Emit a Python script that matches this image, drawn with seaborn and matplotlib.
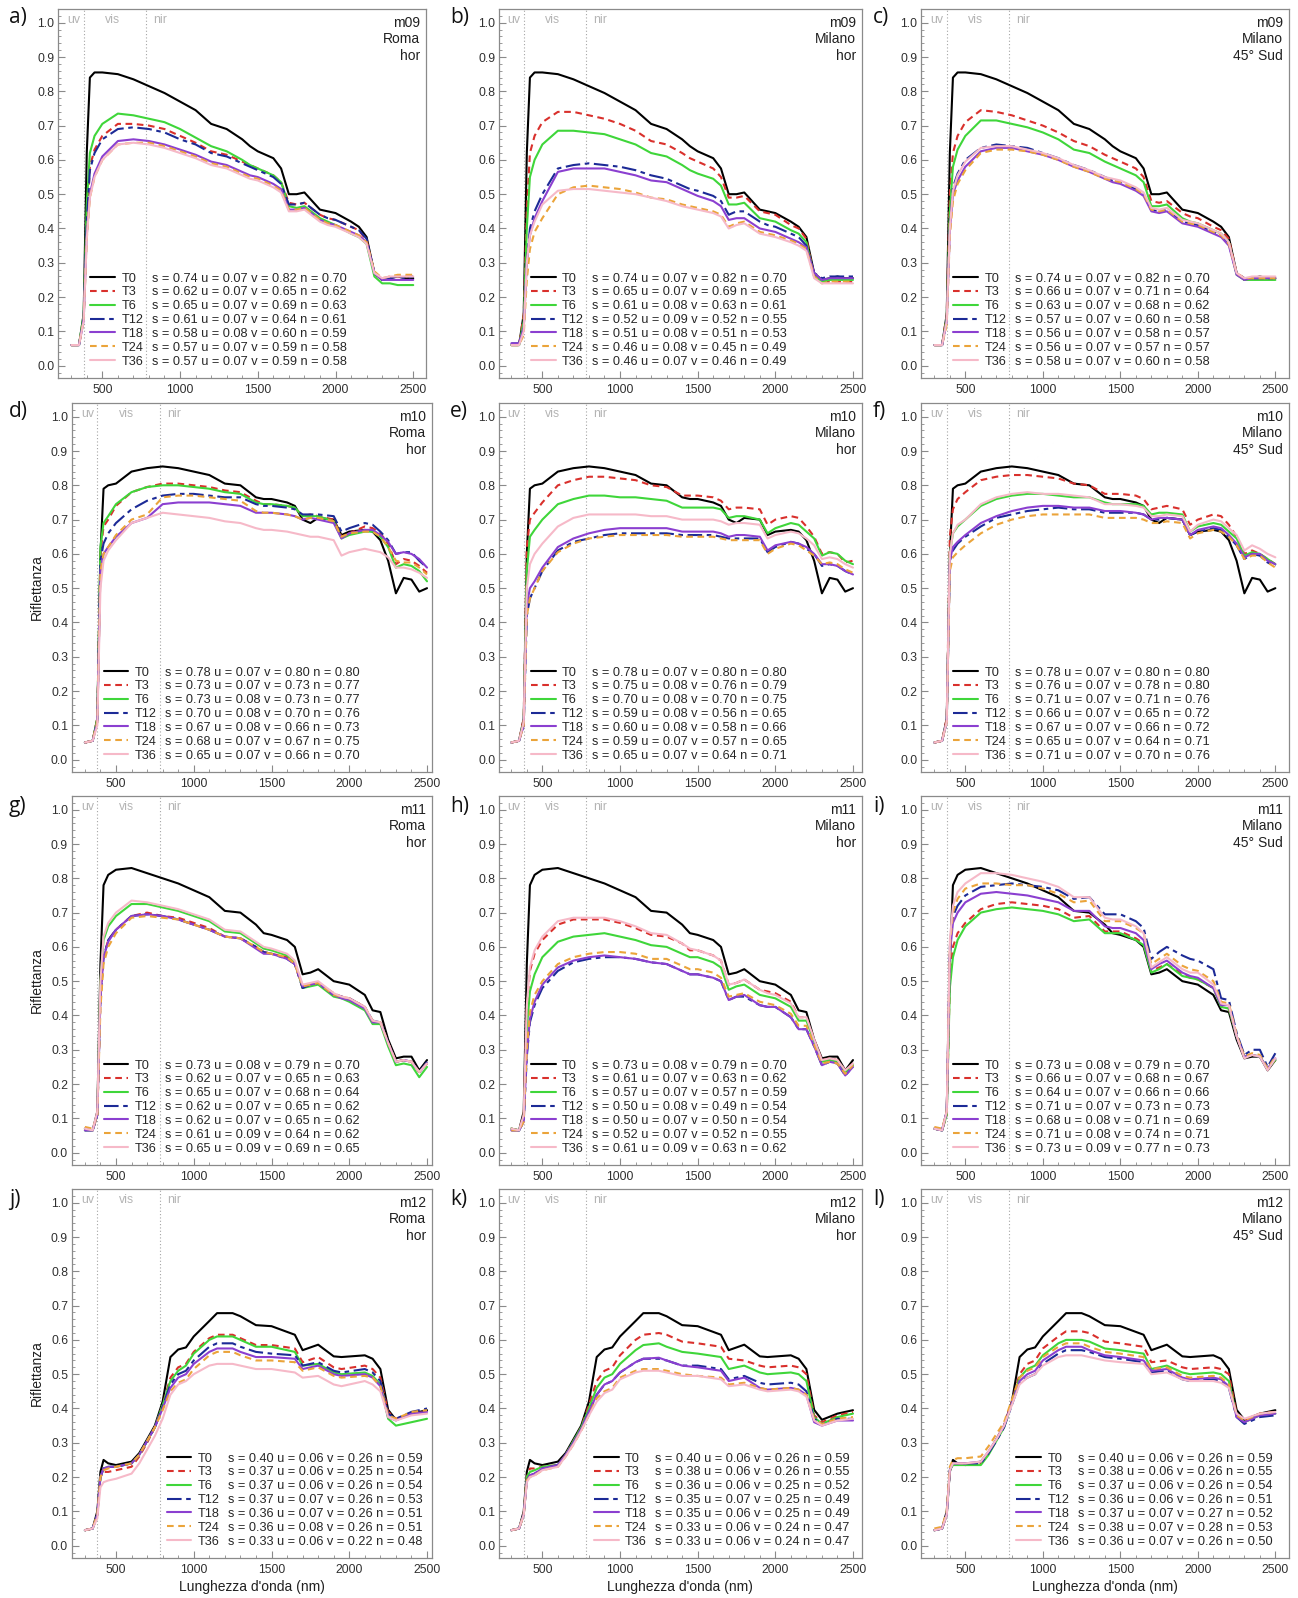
import matplotlib
matplotlib.use("Agg")
import matplotlib.pyplot as plt
from matplotlib.lines import Line2D
from matplotlib.ticker import MultipleLocator, FormatStrFormatter
import pandas as pd
import seaborn as sns

# ---------------------------------------------------------------- wavelengths (nm)
WL_A = [300, 350, 380, 400, 420, 450, 500, 600, 700, 800,
        900, 1000, 1100, 1200, 1300, 1400, 1450, 1500, 1600, 1650,
        1700, 1750, 1800, 1900, 1950, 2000, 2100, 2150, 2200, 2250,
        2300, 2350, 2400, 2450, 2500]
WL_B = [300, 350, 380, 400, 420, 450, 500, 600, 650, 700,
        750, 800, 850, 900, 950, 1000, 1100, 1150, 1250, 1300,
        1400, 1500, 1650, 1700, 1800, 1900, 1950, 2100, 2150, 2200,
        2250, 2300, 2400, 2500]

SERIES = ["T0", "T3", "T6", "T12", "T18", "T24", "T36"]

# ---------------------------------------------------------------- reference spectra (T0)
M09_T0 = [.060, .060, .150, .620, .840, .855, .855, .850, .835, .815,
          .795, .770, .745, .705, .690, .660, .640, .625, .605, .575,
          .500, .500, .505, .455, .450, .445, .420, .405, .375, .270,
          .250, .255, .260, .255, .255]
M10_T0 = [.050, .055, .120, .600, .790, .800, .805, .840, .850, .855,
          .850, .840, .830, .805, .800, .765, .760, .760, .750, .740,
          .700, .690, .705, .700, .655, .665, .670, .665, .640, .580,
          .485, .530, .525, .490, .500]
M11_T0 = [.070, .065, .120, .550, .780, .810, .825, .830, .815, .800,
          .785, .765, .745, .705, .700, .665, .640, .635, .620, .600,
          .520, .525, .535, .500, .495, .490, .460, .415, .410, .330,
          .275, .280, .280, .240, .270]
M12_T0 = [.045, .050, .100, .215, .250, .240, .235, .245, .270, .310,
          .350, .420, .550, .572, .578, .610, .655, .678, .678, .669,
          .643, .640, .615, .570, .586, .552, .550, .555, .545, .515,
          .396, .367, .385, .395]

# ---------------------------------------------------------------- m09
m09_roma_hor = {
    "T3": [.060, .060, .140, .420, .580, .630, .670, .705, .705, .700,
           .690, .670, .650, .625, .615, .595, .585, .575, .555, .535,
           .475, .470, .475, .440, .430, .425, .405, .395, .365, .270,
           .250, .260, .260, .260, .265],
    "T6": [.060, .060, .150, .470, .620, .670, .705, .735, .730, .720,
           .710, .690, .665, .640, .625, .600, .585, .575, .555, .535,
           .465, .460, .465, .430, .420, .410, .385, .375, .355, .260,
           .240, .240, .235, .235, .235],
    "T12": [.060, .060, .140, .420, .570, .620, .660, .690, .695, .690,
            .680, .660, .645, .620, .610, .590, .580, .570, .550, .530,
            .470, .470, .475, .440, .430, .425, .405, .395, .370, .270,
            .250, .255, .260, .255, .260],
    "T18": [.060, .060, .130, .380, .500, .560, .610, .655, .660, .655,
            .645, .630, .615, .595, .585, .565, .555, .550, .530, .515,
            .455, .455, .460, .425, .415, .410, .390, .380, .360, .270,
            .250, .250, .250, .250, .250],
    "T24": [.060, .060, .130, .370, .490, .550, .600, .645, .650, .650,
            .640, .625, .610, .590, .580, .560, .550, .545, .525, .510,
            .455, .455, .460, .425, .415, .410, .390, .380, .360, .275,
            .255, .260, .265, .265, .265],
    "T36": [.060, .060, .130, .370, .490, .550, .600, .645, .650, .645,
            .635, .620, .605, .585, .575, .555, .545, .540, .520, .505,
            .450, .450, .455, .420, .410, .405, .385, .375, .355, .270,
            .255, .260, .260, .260, .260],
}
m09_milano_hor = {
    "T3": [.060, .060, .150, .450, .620, .670, .710, .740, .740, .730,
           .720, .705, .685, .655, .645, .620, .605, .595, .575, .550,
           .490, .490, .495, .450, .445, .440, .410, .400, .370, .260,
           .245, .245, .245, .245, .245],
    "T6": [.060, .060, .130, .400, .550, .600, .645, .685, .685, .680,
           .675, .660, .645, .620, .610, .585, .570, .560, .545, .525,
           .470, .470, .475, .430, .425, .420, .395, .385, .360, .260,
           .245, .250, .250, .250, .250],
    "T12": [.065, .065, .110, .300, .400, .450, .500, .575, .585, .590,
            .585, .580, .570, .555, .545, .525, .515, .510, .495, .480,
            .440, .450, .450, .420, .410, .405, .385, .375, .350, .270,
            .255, .260, .260, .260, .260],
    "T18": [.065, .065, .110, .300, .380, .430, .480, .565, .575, .575,
            .575, .565, .555, .540, .535, .515, .505, .495, .480, .465,
            .425, .430, .430, .400, .395, .390, .370, .360, .345, .270,
            .250, .255, .255, .255, .255],
    "T24": [.060, .060, .090, .250, .340, .390, .430, .500, .520, .525,
            .520, .515, .505, .490, .485, .470, .465, .460, .450, .440,
            .405, .415, .420, .390, .385, .380, .365, .355, .340, .260,
            .240, .245, .245, .245, .245],
    "T36": [.060, .060, .100, .300, .380, .420, .470, .510, .515, .515,
            .510, .505, .500, .490, .480, .465, .460, .455, .445, .435,
            .400, .410, .415, .385, .380, .375, .360, .350, .335, .255,
            .240, .240, .240, .240, .240],
}
m09_milano_sud = {
    "T3": [.060, .060, .150, .500, .620, .670, .710, .745, .740, .730,
           .715, .700, .680, .655, .640, .615, .605, .595, .575, .550,
           .480, .475, .480, .445, .435, .430, .405, .395, .370, .270,
           .255, .255, .255, .255, .255],
    "T6": [.060, .060, .140, .450, .580, .630, .670, .715, .715, .705,
           .695, .680, .660, .630, .620, .595, .585, .575, .555, .535,
           .465, .465, .470, .430, .420, .415, .395, .385, .360, .265,
           .250, .250, .250, .250, .250],
    "T12": [.060, .060, .130, .400, .520, .560, .600, .635, .645, .640,
            .635, .620, .605, .585, .570, .550, .540, .535, .515, .500,
            .455, .450, .455, .420, .415, .410, .390, .380, .355, .270,
            .255, .255, .255, .255, .255],
    "T18": [.060, .060, .130, .390, .500, .540, .580, .625, .635, .635,
            .625, .615, .600, .580, .565, .545, .535, .530, .510, .495,
            .450, .445, .450, .415, .410, .405, .385, .375, .350, .265,
            .250, .255, .255, .255, .255],
    "T24": [.060, .060, .120, .380, .480, .530, .570, .620, .630, .630,
            .625, .615, .600, .580, .565, .545, .540, .535, .515, .500,
            .455, .450, .455, .420, .415, .410, .390, .380, .355, .270,
            .255, .255, .255, .255, .255],
    "T36": [.060, .060, .130, .400, .510, .555, .595, .635, .640, .640,
            .630, .620, .605, .585, .570, .550, .545, .540, .520, .505,
            .460, .455, .460, .425, .420, .415, .395, .385, .360, .270,
            .255, .260, .260, .260, .260],
}

# ---------------------------------------------------------------- m10
m10_roma_hor = {
    "T3": [.050, .055, .120, .600, .680, .700, .740, .780, .795, .805,
           .805, .800, .795, .785, .780, .755, .745, .745, .740, .735,
           .710, .715, .710, .700, .650, .660, .680, .675, .660, .630,
           .570, .585, .580, .565, .545],
    "T6": [.050, .055, .120, .620, .690, .710, .745, .780, .795, .800,
           .800, .795, .790, .780, .775, .750, .745, .745, .740, .735,
           .710, .710, .710, .695, .645, .655, .665, .665, .650, .620,
           .560, .570, .565, .550, .520],
    "T12": [.050, .055, .110, .580, .630, .660, .690, .730, .755, .770,
            .775, .775, .770, .765, .765, .745, .740, .740, .735, .730,
            .715, .715, .715, .710, .665, .675, .690, .685, .665, .640,
            .600, .605, .605, .580, .560],
    "T18": [.050, .055, .110, .550, .600, .620, .650, .690, .705, .745,
            .750, .750, .750, .745, .740, .720, .720, .720, .715, .710,
            .700, .705, .700, .690, .645, .660, .670, .670, .655, .635,
            .600, .605, .600, .585, .560],
    "T24": [.050, .055, .110, .550, .600, .620, .655, .700, .715, .765,
            .770, .770, .765, .760, .755, .725, .720, .720, .715, .710,
            .700, .705, .705, .695, .650, .660, .665, .665, .650, .620,
            .580, .575, .575, .560, .540],
    "T36": [.050, .055, .100, .500, .580, .610, .640, .690, .705, .720,
            .715, .710, .705, .695, .690, .675, .670, .670, .665, .660,
            .655, .650, .650, .640, .595, .605, .615, .610, .605, .590,
            .560, .560, .555, .545, .530],
}
m10_milano_hor = {
    "T3": [.050, .055, .120, .620, .700, .720, .750, .800, .815, .825,
           .825, .820, .815, .800, .795, .770, .770, .770, .765, .755,
           .730, .735, .735, .730, .685, .700, .710, .705, .680, .650,
           .600, .605, .600, .575, .580],
    "T6": [.050, .055, .110, .550, .650, .670, .700, .745, .760, .770,
           .770, .765, .765, .760, .755, .735, .735, .735, .735, .730,
           .705, .710, .710, .700, .660, .675, .690, .685, .665, .645,
           .595, .605, .600, .580, .570],
    "T12": [.050, .055, .100, .420, .470, .500, .550, .610, .635, .645,
            .655, .660, .660, .660, .660, .655, .655, .655, .655, .650,
            .645, .645, .645, .645, .605, .620, .635, .630, .615, .600,
            .565, .570, .565, .550, .540],
    "T18": [.050, .055, .100, .450, .500, .520, .560, .620, .645, .660,
            .670, .675, .675, .675, .675, .665, .665, .665, .665, .660,
            .650, .655, .655, .650, .610, .625, .635, .630, .620, .600,
            .570, .570, .565, .550, .540],
    "T24": [.050, .055, .100, .420, .470, .500, .550, .605, .630, .645,
            .650, .655, .655, .655, .655, .650, .650, .650, .650, .645,
            .640, .640, .640, .640, .600, .615, .630, .625, .610, .595,
            .570, .575, .570, .555, .545],
    "T36": [.050, .055, .110, .500, .570, .600, .630, .680, .705, .715,
            .715, .715, .715, .710, .710, .700, .700, .700, .700, .695,
            .685, .690, .690, .685, .645, .655, .665, .660, .645, .625,
            .585, .590, .585, .570, .560],
}
m10_milano_sud = {
    "T3": [.050, .055, .120, .650, .730, .760, .780, .815, .825, .830,
           .830, .825, .820, .805, .800, .775, .775, .775, .770, .760,
           .730, .735, .740, .730, .685, .700, .715, .710, .685, .650,
           .600, .610, .600, .585, .570],
    "T6": [.050, .055, .110, .600, .660, .680, .700, .740, .760, .770,
           .775, .775, .770, .765, .765, .750, .745, .745, .745, .740,
           .715, .720, .720, .715, .665, .680, .690, .685, .665, .645,
           .595, .605, .600, .585, .570],
    "T12": [.050, .055, .110, .580, .610, .630, .650, .680, .705, .715,
            .725, .730, .735, .730, .730, .720, .720, .720, .720, .715,
            .700, .700, .705, .700, .655, .665, .675, .670, .650, .625,
            .585, .600, .595, .575, .565],
    "T18": [.050, .055, .110, .580, .620, .635, .655, .690, .710, .725,
            .735, .740, .740, .735, .735, .725, .725, .725, .720, .715,
            .700, .705, .705, .700, .655, .670, .680, .675, .655, .630,
            .590, .600, .600, .580, .570],
    "T24": [.050, .055, .110, .550, .590, .605, .625, .660, .685, .700,
            .710, .715, .715, .715, .715, .705, .705, .705, .705, .700,
            .690, .690, .695, .690, .645, .660, .670, .665, .650, .625,
            .585, .595, .595, .575, .560],
    "T36": [.050, .055, .110, .600, .660, .685, .700, .745, .765, .775,
            .780, .775, .775, .770, .765, .745, .745, .745, .740, .735,
            .710, .710, .715, .710, .665, .685, .700, .695, .675, .655,
            .610, .625, .615, .600, .590],
}

# ---------------------------------------------------------------- m11
m11_roma_hor = {
    "T3": [.070, .065, .110, .450, .570, .620, .650, .690, .700, .690,
           .685, .670, .655, .630, .625, .600, .585, .580, .570, .550,
           .480, .490, .495, .465, .455, .450, .425, .380, .380, .320,
           .265, .270, .265, .235, .260],
    "T6": [.065, .065, .110, .500, .620, .660, .690, .725, .725, .715,
           .705, .690, .675, .645, .640, .610, .595, .590, .575, .555,
           .480, .485, .490, .455, .450, .440, .415, .375, .375, .310,
           .255, .260, .255, .220, .250],
    "T12": [.065, .065, .110, .450, .570, .620, .650, .690, .695, .690,
            .680, .665, .650, .630, .625, .600, .585, .580, .565, .550,
            .480, .490, .495, .460, .455, .450, .425, .385, .380, .320,
            .265, .270, .265, .235, .265],
    "T18": [.065, .065, .110, .450, .570, .615, .650, .690, .695, .690,
            .680, .665, .650, .630, .625, .595, .580, .580, .565, .550,
            .485, .490, .495, .460, .450, .445, .420, .380, .380, .320,
            .265, .270, .265, .235, .260],
    "T24": [.075, .070, .110, .420, .550, .600, .640, .685, .690, .685,
            .680, .665, .650, .630, .625, .600, .585, .580, .570, .550,
            .485, .490, .495, .460, .455, .450, .425, .385, .380, .320,
            .265, .270, .265, .235, .260],
    "T36": [.070, .065, .120, .500, .630, .670, .700, .735, .730, .720,
            .710, .695, .680, .650, .645, .615, .600, .595, .580, .560,
            .490, .495, .500, .465, .455, .450, .425, .385, .380, .320,
            .265, .270, .265, .235, .260],
}
m11_milano_hor = {
    "T3": [.070, .065, .110, .420, .530, .580, .620, .665, .680, .680,
           .680, .670, .655, .635, .630, .610, .590, .590, .575, .560,
           .490, .495, .505, .475, .470, .465, .440, .395, .395, .330,
           .270, .275, .270, .240, .260],
    "T6": [.070, .065, .100, .360, .470, .520, .570, .615, .630, .635,
           .640, .630, .620, .605, .600, .580, .570, .570, .555, .540,
           .475, .485, .490, .460, .455, .450, .425, .385, .385, .325,
           .265, .270, .265, .235, .255],
    "T12": [.065, .065, .090, .280, .380, .430, .480, .530, .555, .565,
            .570, .570, .565, .555, .550, .530, .520, .520, .510, .500,
            .445, .455, .455, .430, .425, .425, .395, .360, .360, .310,
            .255, .265, .260, .225, .250],
    "T18": [.065, .065, .090, .290, .390, .440, .490, .540, .560, .570,
            .575, .570, .565, .555, .550, .530, .520, .520, .510, .500,
            .445, .455, .460, .430, .425, .425, .395, .360, .360, .310,
            .255, .265, .260, .225, .250],
    "T24": [.065, .065, .090, .300, .410, .460, .500, .550, .570, .580,
            .585, .585, .580, .565, .565, .545, .535, .535, .525, .510,
            .455, .460, .465, .440, .435, .430, .405, .370, .370, .315,
            .260, .265, .260, .230, .255],
    "T36": [.070, .065, .110, .430, .540, .590, .630, .675, .685, .685,
            .685, .675, .660, .640, .635, .610, .595, .590, .575, .560,
            .490, .495, .505, .475, .465, .460, .435, .395, .395, .330,
            .270, .275, .270, .240, .260],
}
m11_milano_sud = {
    "T3": [.070, .065, .110, .500, .600, .640, .670, .710, .725, .730,
           .725, .720, .710, .685, .690, .645, .645, .645, .625, .610,
           .530, .540, .550, .520, .510, .505, .480, .430, .420, .340,
           .280, .285, .280, .245, .270],
    "T6": [.070, .065, .110, .480, .570, .620, .660, .700, .710, .715,
           .710, .705, .695, .675, .680, .640, .640, .640, .620, .605,
           .525, .535, .550, .515, .510, .505, .480, .425, .420, .340,
           .280, .285, .280, .245, .270],
    "T12": [.070, .065, .120, .600, .690, .720, .750, .775, .780, .785,
            .780, .775, .765, .740, .745, .695, .695, .695, .675, .655,
            .565, .585, .600, .575, .565, .560, .535, .450, .445, .350,
            .285, .300, .300, .250, .290],
    "T18": [.070, .065, .120, .580, .670, .700, .730, .755, .760, .755,
            .750, .740, .730, .705, .705, .660, .655, .655, .640, .620,
            .535, .550, .560, .525, .515, .510, .480, .430, .430, .340,
            .280, .285, .280, .245, .275],
    "T24": [.075, .070, .120, .600, .700, .740, .770, .785, .785, .780,
            .780, .770, .755, .730, .735, .675, .675, .675, .655, .640,
            .550, .565, .580, .545, .535, .530, .500, .440, .435, .345,
            .280, .290, .285, .245, .280],
    "T36": [.070, .065, .120, .620, .720, .760, .785, .815, .815, .810,
            .800, .790, .775, .745, .745, .685, .680, .680, .660, .640,
            .540, .555, .570, .535, .525, .525, .490, .435, .430, .340,
            .275, .285, .280, .240, .275],
}

# ---------------------------------------------------------------- m12
m12_roma_hor = {
    "T3": [.045, .050, .090, .200, .215, .215, .220, .230, .260, .300,
           .345, .410, .490, .520, .530, .565, .605, .615, .615, .605,
           .585, .585, .575, .535, .550, .520, .515, .525, .515, .490,
           .390, .370, .385, .390],
    "T6": [.045, .050, .090, .200, .225, .230, .230, .240, .265, .305,
           .345, .410, .480, .510, .525, .560, .600, .610, .610, .600,
           .580, .580, .565, .525, .530, .505, .500, .505, .495, .470,
           .370, .350, .360, .370],
    "T12": [.045, .050, .090, .200, .225, .230, .230, .240, .265, .305,
            .345, .405, .470, .500, .510, .540, .580, .590, .590, .580,
            .565, .560, .555, .525, .535, .510, .505, .515, .505, .480,
            .385, .370, .390, .400],
    "T18": [.045, .050, .090, .200, .225, .230, .230, .240, .265, .305,
            .345, .400, .460, .490, .500, .530, .565, .575, .575, .565,
            .550, .550, .545, .515, .525, .500, .495, .500, .490, .465,
            .375, .365, .385, .390],
    "T24": [.045, .050, .090, .200, .220, .225, .230, .240, .265, .305,
            .345, .395, .450, .475, .485, .515, .555, .565, .565, .555,
            .540, .540, .535, .510, .520, .495, .490, .495, .490, .465,
            .380, .370, .390, .395],
    "T36": [.045, .050, .080, .170, .185, .190, .195, .210, .240, .280,
            .320, .370, .440, .470, .480, .500, .525, .530, .530, .525,
            .515, .515, .505, .490, .495, .470, .465, .480, .470, .450,
            .375, .365, .380, .385],
}
m12_milano_hor = {
    "T3": [.045, .050, .090, .200, .225, .225, .230, .235, .265, .305,
           .345, .410, .480, .510, .520, .555, .600, .615, .620, .615,
           .595, .590, .580, .545, .540, .525, .520, .525, .520, .500,
           .380, .360, .380, .390],
    "T6": [.045, .050, .090, .200, .215, .220, .230, .235, .265, .305,
           .345, .400, .460, .490, .500, .530, .570, .585, .590, .580,
           .565, .560, .550, .515, .525, .505, .500, .505, .500, .480,
           .375, .355, .375, .385],
    "T12": [.045, .050, .090, .190, .205, .210, .225, .235, .265, .300,
            .340, .390, .440, .470, .480, .505, .535, .545, .545, .540,
            .525, .525, .515, .485, .495, .475, .470, .475, .470, .450,
            .370, .355, .370, .370],
    "T18": [.045, .050, .090, .190, .205, .210, .225, .235, .265, .300,
            .340, .390, .440, .470, .480, .505, .535, .545, .548, .540,
            .525, .520, .510, .480, .490, .460, .455, .460, .455, .440,
            .360, .350, .365, .365],
    "T24": [.045, .050, .090, .190, .200, .205, .220, .230, .260, .295,
            .335, .380, .430, .450, .460, .490, .510, .515, .515, .510,
            .500, .495, .490, .470, .475, .460, .455, .460, .455, .440,
            .370, .355, .370, .375],
    "T36": [.045, .050, .090, .185, .200, .205, .220, .230, .260, .295,
            .335, .380, .420, .445, .455, .485, .505, .510, .510, .505,
            .495, .495, .485, .465, .470, .455, .450, .455, .450, .435,
            .365, .350, .365, .370],
}
m12_milano_sud = {
    "T3": [.045, .050, .090, .220, .240, .240, .240, .240, .270, .310,
           .350, .420, .500, .530, .540, .575, .610, .625, .625, .620,
           .595, .590, .580, .535, .540, .520, .515, .520, .515, .500,
           .385, .365, .385, .390],
    "T6": [.045, .050, .090, .220, .235, .235, .235, .235, .265, .305,
           .345, .415, .490, .515, .525, .555, .590, .600, .600, .595,
           .575, .570, .560, .515, .525, .505, .500, .505, .500, .480,
           .380, .360, .380, .385],
    "T12": [.045, .050, .090, .220, .240, .240, .240, .240, .270, .305,
            .345, .410, .475, .490, .500, .530, .560, .570, .570, .565,
            .550, .545, .535, .505, .510, .485, .480, .485, .480, .460,
            .375, .355, .375, .380],
    "T18": [.045, .050, .090, .220, .240, .240, .240, .245, .275, .310,
            .350, .415, .480, .500, .510, .540, .570, .580, .580, .570,
            .555, .550, .540, .510, .515, .490, .485, .490, .485, .465,
            .375, .360, .380, .385],
    "T24": [.050, .055, .100, .230, .250, .255, .255, .260, .290, .325,
            .360, .425, .490, .510, .520, .550, .580, .590, .590, .580,
            .565, .560, .550, .515, .520, .495, .490, .495, .490, .470,
            .380, .365, .385, .390],
    "T36": [.045, .050, .090, .220, .240, .240, .240, .245, .275, .310,
            .350, .410, .470, .490, .500, .525, .550, .555, .555, .550,
            .540, .535, .530, .500, .505, .485, .480, .480, .475, .460,
            .385, .370, .385, .390],
}

# ---------------------------------------------------------------- band indices (s, u, v, n)
stats_a = [(.74, .07, .82, .70), (.62, .07, .65, .62), (.65, .07, .69, .63), (.61, .07, .64, .61),
           (.58, .08, .60, .59), (.57, .07, .59, .58), (.57, .07, .59, .58)]
stats_b = [(.74, .07, .82, .70), (.65, .07, .69, .65), (.61, .08, .63, .61), (.52, .09, .52, .55),
           (.51, .08, .51, .53), (.46, .08, .45, .49), (.46, .07, .46, .49)]
stats_c = [(.74, .07, .82, .70), (.66, .07, .71, .64), (.63, .07, .68, .62), (.57, .07, .60, .58),
           (.56, .07, .58, .57), (.56, .07, .57, .57), (.58, .07, .60, .58)]
stats_d = [(.78, .07, .80, .80), (.73, .07, .73, .77), (.73, .08, .73, .77), (.70, .08, .70, .76),
           (.67, .08, .66, .73), (.68, .07, .67, .75), (.65, .07, .66, .70)]
stats_e = [(.78, .07, .80, .80), (.75, .08, .76, .79), (.70, .08, .70, .75), (.59, .08, .56, .65),
           (.60, .08, .58, .66), (.59, .07, .57, .65), (.65, .07, .64, .71)]
stats_f = [(.78, .07, .80, .80), (.76, .07, .78, .80), (.71, .07, .71, .76), (.66, .07, .65, .72),
           (.67, .07, .66, .72), (.65, .07, .64, .71), (.71, .07, .70, .76)]
stats_g = [(.73, .08, .79, .70), (.62, .07, .65, .63), (.65, .07, .68, .64), (.62, .07, .65, .62),
           (.62, .07, .65, .62), (.61, .09, .64, .62), (.65, .09, .69, .65)]
stats_h = [(.73, .08, .79, .70), (.61, .07, .63, .62), (.57, .07, .57, .59), (.50, .08, .49, .54),
           (.50, .07, .50, .54), (.52, .07, .52, .55), (.61, .09, .63, .62)]
stats_i = [(.73, .08, .79, .70), (.66, .07, .68, .67), (.64, .07, .66, .66), (.71, .07, .73, .73),
           (.68, .08, .71, .69), (.71, .08, .74, .71), (.73, .09, .77, .73)]
stats_j = [(.40, .06, .26, .59), (.37, .06, .25, .54), (.37, .06, .26, .54), (.37, .07, .26, .53),
           (.36, .07, .26, .51), (.36, .08, .26, .51), (.33, .06, .22, .48)]
stats_k = [(.40, .06, .26, .59), (.38, .06, .26, .55), (.36, .06, .25, .52), (.35, .07, .25, .49),
           (.35, .06, .25, .49), (.33, .06, .24, .47), (.33, .06, .24, .47)]
stats_l = [(.40, .06, .26, .59), (.38, .06, .26, .55), (.37, .06, .26, .54), (.36, .06, .26, .51),
           (.37, .07, .27, .52), (.38, .07, .28, .53), (.36, .07, .26, .50)]

PANELS = [
    ("a)", "m09\nRoma\nhor", WL_A, M09_T0, m09_roma_hor, stats_a),
    ("b)", "m09\nMilano\nhor", WL_A, M09_T0, m09_milano_hor, stats_b),
    ("c)", "m09\nMilano\n45° Sud", WL_A, M09_T0, m09_milano_sud, stats_c),
    ("d)", "m10\nRoma\nhor", WL_A, M10_T0, m10_roma_hor, stats_d),
    ("e)", "m10\nMilano\nhor", WL_A, M10_T0, m10_milano_hor, stats_e),
    ("f)", "m10\nMilano\n45° Sud", WL_A, M10_T0, m10_milano_sud, stats_f),
    ("g)", "m11\nRoma\nhor", WL_A, M11_T0, m11_roma_hor, stats_g),
    ("h)", "m11\nMilano\nhor", WL_A, M11_T0, m11_milano_hor, stats_h),
    ("i)", "m11\nMilano\n45° Sud", WL_A, M11_T0, m11_milano_sud, stats_i),
    ("j)", "m12\nRoma\nhor", WL_B, M12_T0, m12_roma_hor, stats_j),
    ("k)", "m12\nMilano\nhor", WL_B, M12_T0, m12_milano_hor, stats_k),
    ("l)", "m12\nMilano\n45° Sud", WL_B, M12_T0, m12_milano_sud, stats_l),
]

# ---------------------------------------------------------------- styling
COLORS = {"T0": "#000000", "T3": "#d9302c", "T6": "#3fd63a", "T12": "#1c2a96",
          "T18": "#8b3fd0", "T24": "#eba43a", "T36": "#f6b9c8"}
DASHES = {"T0": "", "T3": (3.2, 2.2), "T6": "", "T12": (7, 2.2, 2.2, 2.2),
          "T18": "", "T24": (3.2, 2.2), "T36": ""}
LW = 1.5
FS = 9.2

sns.set_theme(style="ticks")
plt.rcParams["font.family"] = ["Liberation Sans", "DejaVu Sans"]
plt.rcParams["axes.linewidth"] = 0.9

FIG_W, FIG_H = 1298, 1598
fig = plt.figure(figsize=(FIG_W / 100, FIG_H / 100), dpi=100)
fig.patch.set_facecolor("white")

ROW_TOP = [9, 403, 796, 1189]
AX_H = 369


def geometry(row, col):
    """(left px, right px, x-limits) of one panel frame."""
    if col == 0:
        if row == 0:
            return 58, 426, (215, 2582)
        return 71.5, 432, (214, 2532)
    if col == 1:
        return 498.7, 862, (219, 2558)
    return 921, 1289, (214, 2588)


LETTER_X = [9, 450, 873]
LETTER_Y = [18, 412, 806, 1199]
SPINE = "#8a8a8a"

for k, (letter, tag, wl, t0, others, stats) in enumerate(PANELS):
    row, col = divmod(k, 3)
    left, right, xlim = geometry(row, col)
    ax_w = right - left
    ax = fig.add_axes([left / FIG_W, 1 - (ROW_TOP[row] + AX_H) / FIG_H,
                       ax_w / FIG_W, AX_H / FIG_H])

    curves = {"T0": t0, **others}
    df = pd.concat(
        [pd.DataFrame({"wl": wl, "r": curves[s], "serie": s}) for s in SERIES],
        ignore_index=True,
    )

    # spectral regions
    for xv in (380, 780):
        ax.axvline(xv, color="#a5a5a5", lw=0.8, ls=(0, (1, 2)), zorder=0.5)
    for xv, name in ((318, "uv"), (565, "vis"), (873, "nir")):
        ax.text(xv, 1.008, name, color="#b4b4b4", fontsize=8.8,
                ha="center", va="center")

    sns.lineplot(data=df, x="wl", y="r", hue="serie", style="serie",
                 hue_order=SERIES, style_order=SERIES, palette=COLORS,
                 dashes=DASHES, sort=False, estimator=None, legend=False,
                 lw=LW, ax=ax)

    ax.set_xlim(*xlim)
    ax.set_ylim(-0.036, 1.04)
    ax.xaxis.set_major_locator(MultipleLocator(500))
    ax.xaxis.set_minor_locator(MultipleLocator(100))
    ax.yaxis.set_major_locator(MultipleLocator(0.1))
    ax.yaxis.set_minor_locator(MultipleLocator(0.02))
    ax.yaxis.set_major_formatter(FormatStrFormatter("%.1f"))
    ax.tick_params(which="both", direction="in", bottom=True, left=True,
                   top=False, right=False, color=SPINE)
    ax.tick_params(which="major", length=5, width=0.8, labelsize=8.8,
                   labelcolor="#303030")
    ax.tick_params(which="minor", length=2.5, width=0.6)
    ax.tick_params(axis="x", pad=4.5)
    ax.tick_params(axis="y", pad=2.5)
    for sp in ax.spines.values():
        sp.set_color(SPINE)
        sp.set_linewidth(0.9)

    ax.set_xlabel("")
    ax.set_ylabel("")
    if col == 0 and row > 0:
        ax.set_ylabel("Riflettanza", fontsize=10, color="#202020")
        ax.yaxis.set_label_coords(-(left - 44) / ax_w, 0.5)
    if row == 3:
        ax.set_xlabel("Lunghezza d'onda (nm)", fontsize=10, color="#202020")
        ax.xaxis.label.set_va("center")
        ax.xaxis.set_label_coords(0.5, -29 / AX_H)

    ax.text(1 - 6 / ax_w, 1 - 7 / AX_H, tag, transform=ax.transAxes,
            ha="right", va="top", fontsize=10, linespacing=1.22,
            color="#202020")

    handles = [Line2D([], [], color=COLORS[s], lw=LW,
                      linestyle="-" if DASHES[s] == "" else (0, DASHES[s]))
               for s in SERIES]
    blanks = [Line2D([], [], color="none") for _ in SERIES]
    labels = SERIES + [f"s = {s:.2f} u = {u:.2f} v = {v:.2f} n = {n:.2f}"
                       for s, u, v, n in stats]
    x0 = (95 if row == 3 else 32) / ax_w
    ax.legend(handles + blanks, labels, ncol=2, loc="lower left",
              bbox_to_anchor=(x0, 0.028), frameon=False, fontsize=FS,
              handlelength=1.95, handletextpad=0.5, columnspacing=-1.80,
              labelspacing=0.145, borderpad=0, borderaxespad=0)

    fig.text(LETTER_X[col] / FIG_W, 1 - LETTER_Y[row] / FIG_H, letter,
             fontsize=15, family=["Open Sans", "DejaVu Sans"],
             ha="left", va="center", color="#111111")

fig.savefig("out.png", dpi=100, facecolor="white")
